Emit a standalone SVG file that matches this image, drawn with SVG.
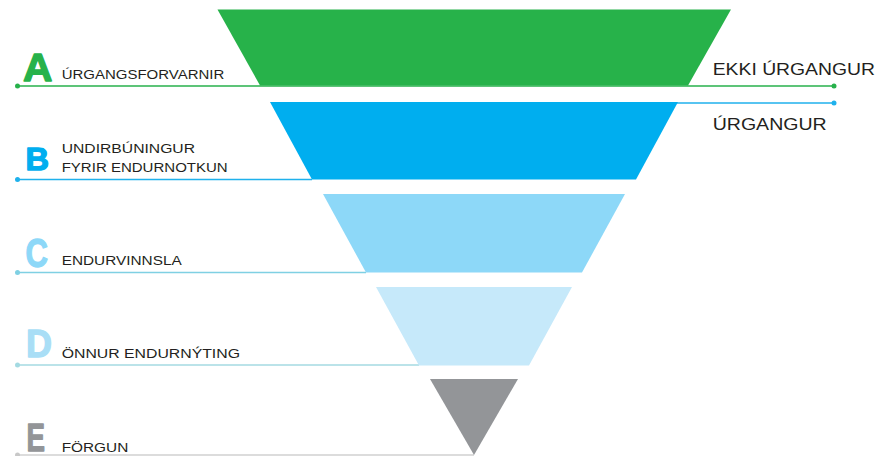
<svg xmlns="http://www.w3.org/2000/svg" width="887" height="456" viewBox="0 0 887 456">
<style>
.lbl{font-family:"Liberation Sans",Arial,sans-serif;font-size:12.5px;fill:#231f20}
.big{font-family:"Liberation Sans",Arial,sans-serif;font-weight:bold;stroke-width:1.3;stroke-linejoin:round}
.rt{font-family:"Liberation Sans",Arial,sans-serif;font-size:16px;fill:#231f20}
.ln{stroke-width:1.5;fill:none}
</style>
<rect width="887" height="456" fill="#ffffff"/>
<g id="connectors">
<line class="ln" x1="17.5" y1="86" x2="834" y2="86" stroke="#27b14b"/>
<circle cx="17.5" cy="86" r="2.5" fill="#27b14b"/>
<circle cx="834" cy="86" r="2.5" fill="#27b14b"/>
<line class="ln" x1="677" y1="103" x2="834" y2="103" stroke="#1fb1ec"/>
<circle cx="834" cy="103" r="2.5" fill="#1fb1ec"/>
<line class="ln" x1="17.5" y1="179.5" x2="312" y2="179.5" stroke="#1fb1ec"/>
<circle cx="17.5" cy="179.5" r="2.5" fill="#1fb1ec"/>
<line class="ln" x1="17.5" y1="272.5" x2="366" y2="272.5" stroke="#7fd0e3"/>
<circle cx="17.5" cy="272.5" r="2.5" fill="#7fd0e3"/>
<line class="ln" x1="17.5" y1="365" x2="419" y2="365" stroke="#a4dae2"/>
<circle cx="17.5" cy="365" r="2.5" fill="#a4dae2"/>
<line class="ln" x1="17.5" y1="455" x2="474" y2="455" stroke="#d0d0d0"/>
<circle cx="17.5" cy="455" r="2.5" fill="#c8c8c8"/>
</g>
<g id="level-a">
<polygon points="217.5,9.5 731,9.5 688,85.5 260,85.5" fill="#27b24a"/>
<text class="big" x="23" y="81.2" font-size="39" fill="#27b24a" stroke="#27b24a" textLength="29.5" lengthAdjust="spacingAndGlyphs">A</text>
<text class="lbl" x="61.7" y="79.3" textLength="162.6" lengthAdjust="spacingAndGlyphs">ÚRGANGSFORVARNIR</text>
</g>
<g id="level-b">
<polygon points="270,102 678,102 636,179.5 312,179.5" fill="#00aeef"/>
<text class="big" x="25.5" y="169.5" font-size="31" fill="#00aeef" stroke="#00aeef" textLength="23.5" lengthAdjust="spacingAndGlyphs">B</text>
<text class="lbl" x="61.7" y="152.7" textLength="133.3" lengthAdjust="spacingAndGlyphs">UNDIRBÚNINGUR</text>
<text class="lbl" x="61.7" y="172.3" textLength="166" lengthAdjust="spacingAndGlyphs">FYRIR ENDURNOTKUN</text>
</g>
<g id="level-c">
<polygon points="323,194 625,194 582,272.5 366,272.5" fill="#8dd8f8"/>
<text class="big" x="25.5" y="267" font-size="41" fill="#8dd8f8" stroke="#8dd8f8" textLength="22.5" lengthAdjust="spacingAndGlyphs">C</text>
<text class="lbl" x="61.7" y="265" textLength="120" lengthAdjust="spacingAndGlyphs">ENDURVINNSLA</text>
</g>
<g id="level-d">
<polygon points="376,287 572,287 529,365.5 419,365.5" fill="#c6e9fa"/>
<text class="big" x="26" y="357" font-size="38" fill="#a9def6" stroke="#a9def6" textLength="26" lengthAdjust="spacingAndGlyphs">D</text>
<text class="lbl" x="61.7" y="357.7" textLength="178.3" lengthAdjust="spacingAndGlyphs">ÖNNUR ENDURNÝTING</text>
</g>
<g id="level-e">
<polygon points="430,379 518,379 474,455" fill="#939598"/>
<text class="big" x="26.5" y="451.2" font-size="39" fill="#939598" stroke="#939598" textLength="18.5" lengthAdjust="spacingAndGlyphs">E</text>
<text class="lbl" x="61.7" y="451.7" textLength="66.6" lengthAdjust="spacingAndGlyphs">FÖRGUN</text>
</g>
<g id="side-labels">
<text class="rt" x="712.7" y="75" textLength="162.3" lengthAdjust="spacingAndGlyphs">EKKI ÚRGANGUR</text>
<text class="rt" x="712.7" y="130" textLength="114" lengthAdjust="spacingAndGlyphs">ÚRGANGUR</text>
</g>
</svg>
